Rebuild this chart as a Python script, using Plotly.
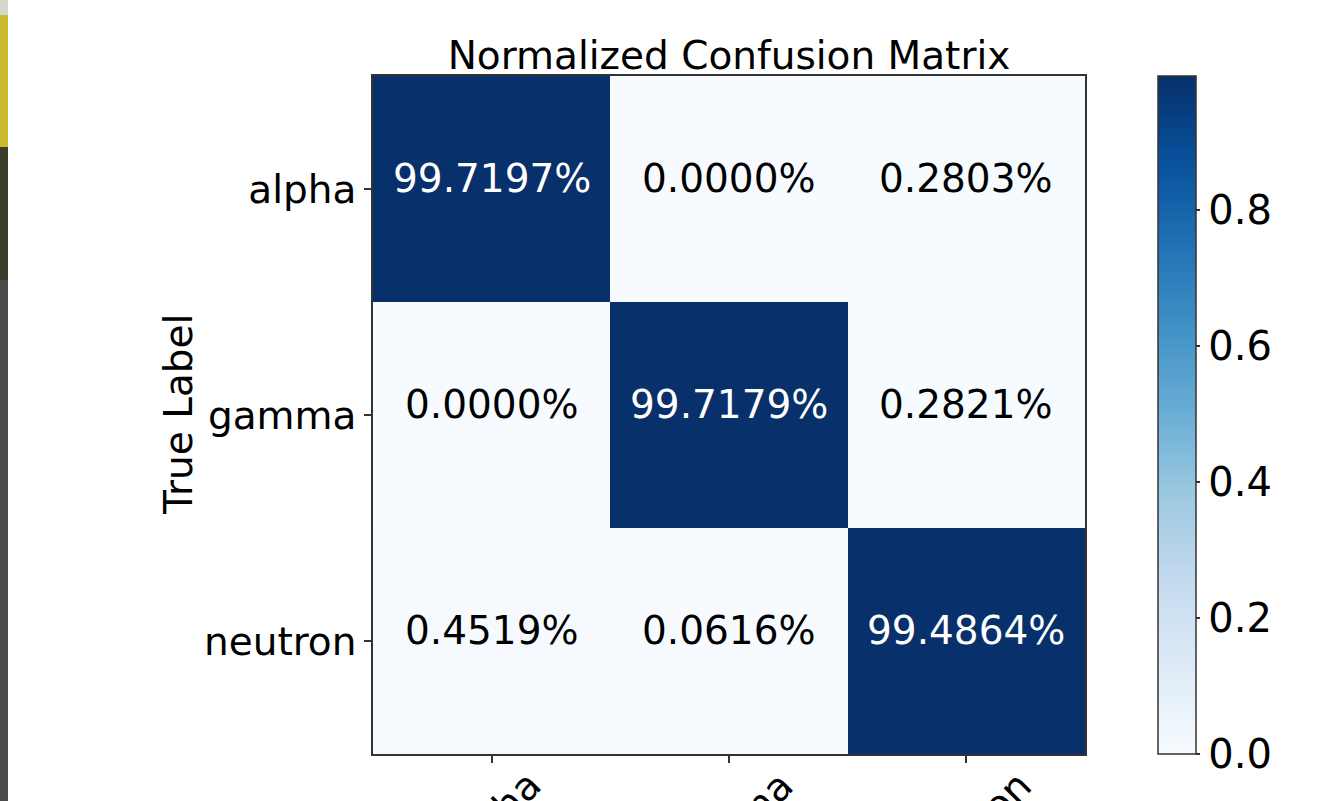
import plotly.graph_objects as go

# ---- data ----
classes = ["alpha", "gamma", "neutron"]
row_alpha = [0.997197, 0.000000, 0.002803]
row_gamma = [0.000000, 0.997179, 0.002821]
row_neutron = [0.004519, 0.000616, 0.994864]
cbar_ticks = [0.0, 0.2, 0.4, 0.6, 0.8]

z = [row_alpha, row_gamma, row_neutron]
zmax = max(max(r) for r in z)

blues = ["#f7fbff", "#deebf7", "#c6dbef", "#9ecae1", "#6baed6",
         "#4292c6", "#2171b5", "#08519c", "#08306b"]
cscale = [[i / (len(blues) - 1), c] for i, c in enumerate(blues)]

FONT = "DejaVu Sans"
FS = 39
FS_CB = 40
FS_CELL = 39

W, H = 1330, 801
L, R, T, B = 373, 1085, 76, 754
pw, ph = R - L, B - T

fig = go.Figure(go.Heatmap(
    z=z, x=classes, y=classes,
    colorscale=cscale, zmin=0, zmax=zmax,
    hoverinfo="skip",
    colorbar=dict(
        x=(1158 - L) / pw, xanchor="left", xref="paper", xpad=0, ypad=0,
        y=0.5, yanchor="middle", len=1.0, lenmode="fraction",
        thickness=38, outlinewidth=1.5, outlinecolor="#333",
        tickvals=cbar_ticks, tickformat=".1f",
        ticks="outside", ticklen=4, tickcolor="#333", tickwidth=1.5,
        tickfont=dict(family=FONT, size=FS_CB, color="black"),
    ),
))

fig.update_xaxes(
    showticklabels=False, ticks="outside", ticklen=7, tickwidth=1.5, tickcolor="#333",
    showline=True, mirror=True, linecolor="#333", linewidth=1.5,
    showgrid=False, zeroline=False,
)
fig.update_yaxes(
    autorange="reversed", ticks="outside", ticklen=7, tickwidth=1.5, tickcolor="#333",
    showline=True, mirror=True, linecolor="#333", linewidth=1.5,
    tickfont=dict(family=FONT, size=FS, color="black"),
    showgrid=False, zeroline=False,
)

annotations = []
# cell values
for i, rname in enumerate(classes):
    for j, cname in enumerate(classes):
        v = z[i][j]
        annotations.append(dict(
            x=cname, y=rname, xref="x", yref="y",
            text=f"{v * 100:.4f}%", showarrow=False,
            yshift=11,
            font=dict(family=FONT, size=FS_CELL,
                      color="white" if v > zmax / 2 else "black"),
        ))
# rotated x tick labels
for c in classes:
    annotations.append(dict(
        x=c, xref="x", y=-(760 - B) / ph, yref="paper",
        text=c, textangle=-45, showarrow=False,
        xanchor="center", yanchor="top", xshift=4,
        font=dict(family=FONT, size=FS, color="black"),
    ))
annotations.append(dict(
    x=(178 - L) / pw, xref="paper", y=(B - 415) / ph, yref="paper",
    text="True Label", textangle=-90, showarrow=False,
    xanchor="center", yanchor="middle",
    font=dict(family=FONT, size=FS, color="black"),
))

def py(v):
    return (B - v) / ph

def px(v):
    return (v - L) / pw

shapes = [
    dict(type="rect", xref="paper", yref="paper", x0=px(0), x1=px(8), y0=py(0), y1=py(15),
         fillcolor="#d6d6cc", line_width=0, layer="above"),
    dict(type="rect", xref="paper", yref="paper", x0=px(0), x1=px(8), y0=py(15), y1=py(147),
         fillcolor="#cbbb2c", line_width=0, layer="above"),
    dict(type="rect", xref="paper", yref="paper", x0=px(0), x1=px(8), y0=py(147), y1=py(280),
         fillcolor="#3c3b2c", line_width=0, layer="above"),
    dict(type="rect", xref="paper", yref="paper", x0=px(0), x1=px(8), y0=py(280), y1=py(801),
         fillcolor="#4a4a46", line_width=0, layer="above"),
]

fig.update_layout(
    width=W, height=H,
    margin=dict(l=L, r=W - R, t=T, b=H - B, pad=0),
    paper_bgcolor="white", plot_bgcolor="white",
    font=dict(family=FONT, size=FS, color="black"),
    title=dict(text="Normalized Confusion Matrix", x=0.5, xref="paper",
               y=1 - 55 / H, yref="container", yanchor="middle",
               font=dict(family=FONT, size=FS, color="black")),
    annotations=annotations,
    shapes=shapes,
    showlegend=False,
)

fig.write_html("out.html", config={"displayModeBar": False},
               post_script="document.body.style.margin='0px';document.body.style.overflow='hidden';")
